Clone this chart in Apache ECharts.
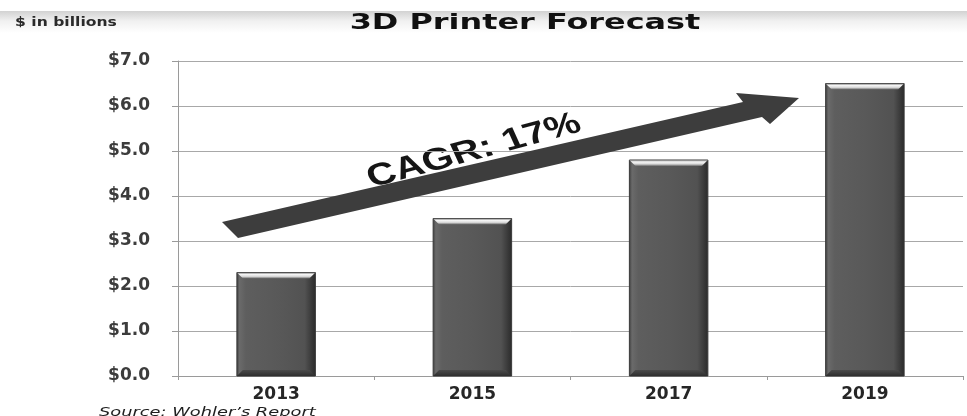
<!DOCTYPE html>
<html>
<head>
<meta charset="utf-8">
<script src="https://cdn.jsdelivr.net/npm/echarts@6/dist/echarts.min.js"></script>
<style>
  html, body { margin: 0; padding: 0; background: #ffffff; }
  #chart { width: 967px; height: 416px; }
</style>
</head>
<body>
<div id="chart"></div>
<script>
// Forecast categories and revenue (US$ billions)
const years = ['2013', '2015', '2017', '2019'];
const revenue = [2.3, 3.5, 4.8, 6.5];

// Value axis ticks
const yMin = 0;
const yMax = 7;
const yStep = 1;

// Texts
const chartTitle = '3D Printer Forecast';
const unitNote = '$ in billions';
const sourceNote = 'Source: Wohler\u2019s Report';
const cagrNote = 'CAGR: 17%';

const FONT = '"DejaVu Sans", Verdana, sans-serif';

const chart = echarts.init(document.getElementById('chart'), null, { renderer: 'canvas' });

// Bevelled dark-grey column
function renderBar(params, api) {
  const idx = api.value(0);
  const val = api.value(1);
  const top = api.coord([idx, val]);
  const base = api.coord([idx, 0]);
  const band = api.size([1, 0])[0];
  const w = band * 0.4;
  const x = top[0] - w / 2;
  const y = top[1];
  const h = base[1] - top[1];
  const b = 6;
  const G = echarts.graphic.LinearGradient;
  return {
    type: 'group',
    children: [
      {
        type: 'rect',
        shape: { x: x, y: y, width: w, height: h },
        style: {
          fill: new G(0, 0, 1, 0, [
            { offset: 0, color: '#3a3a3a' },
            { offset: 0.04, color: '#6a6a6a' },
            { offset: 0.12, color: '#5e5e5e' },
            { offset: 0.5, color: '#595959' },
            { offset: 0.86, color: '#525252' },
            { offset: 0.95, color: '#383838' },
            { offset: 1, color: '#2a2a2a' }
          ]),
          stroke: '#3a3a3a',
          lineWidth: 1
        }
      },
      {
        type: 'polygon',
        shape: { points: [[x, y], [x + w, y], [x + w - b, y + b], [x + b, y + b]] },
        style: {
          fill: new G(0, 0, 0, 1, [
            { offset: 0, color: '#6a6a6a' },
            { offset: 0.3, color: '#f6f6f6' },
            { offset: 0.65, color: '#dcdcdc' },
            { offset: 1, color: '#6c6c6c' }
          ])
        }
      },
      {
        type: 'polygon',
        shape: { points: [[x + b, y + h - b], [x + w - b, y + h - b], [x + w, y + h], [x, y + h]] },
        style: {
          fill: new G(0, 0, 0, 1, [
            { offset: 0, color: '#4a4a4a' },
            { offset: 1, color: '#2e2e2e' }
          ])
        }
      }
    ]
  };
}

const barData = years.map((yr, i) => [i, revenue[i]]);

const option = {
  backgroundColor: '#ffffff',
  animation: false,
  grid: { left: 178, right: 4, top: 61, bottom: 40 },
  xAxis: {
    type: 'category',
    data: years,
    boundaryGap: true,
    axisLine: { show: true, lineStyle: { color: '#9a9a9a', width: 1 } },
    axisTick: { show: true, length: 4, lineStyle: { color: '#9a9a9a' } },
    axisLabel: {
      margin: 10,
      color: '#262626',
      fontFamily: FONT,
      fontWeight: 'bold',
      fontSize: 17
    },
    splitLine: { show: false }
  },
  yAxis: {
    type: 'value',
    min: yMin,
    max: yMax,
    interval: yStep,
    axisLine: { show: true, lineStyle: { color: '#9a9a9a', width: 1 } },
    axisTick: { show: true, length: 6, lineStyle: { color: '#9a9a9a' } },
    axisLabel: {
      margin: 28,
      color: '#3c3c3c',
      fontFamily: FONT,
      fontWeight: 'bold',
      fontSize: 17,
      formatter: v => '$' + v.toFixed(1)
    },
    splitLine: { show: true, lineStyle: { color: '#a8a8a8', width: 1 } }
  },
  series: [{
    type: 'custom',
    renderItem: renderBar,
    encode: { x: 0, y: 1 },
    data: barData,
    z: 2
  }],
  graphic: [
    // faint grey band along the top edge
    {
      type: 'rect',
      left: 0, top: 11, z: 0,
      shape: { width: 967, height: 22 },
      style: {
        fill: new echarts.graphic.LinearGradient(0, 0, 0, 1, [
          { offset: 0, color: '#d2d2d2' },
          { offset: 0.45, color: '#f0f0f0' },
          { offset: 1, color: '#ffffff' }
        ])
      },
      silent: true
    },
    // unit note, top-left
    {
      type: 'group', x: 15, y: 23, scaleX: 1.3, z: 10,
      children: [{
        type: 'text',
        style: {
          text: unitNote, fill: '#2a2a2a',
          font: 'bold 12px ' + FONT,
          textAlign: 'left', textVerticalAlign: 'middle'
        }
      }]
    },
    // chart title
    {
      type: 'group', x: 525, y: 23, scaleX: 1.45, z: 10,
      children: [{
        type: 'text',
        style: {
          text: chartTitle, fill: '#111111',
          font: 'bold 22px ' + FONT,
          textAlign: 'center', textVerticalAlign: 'middle'
        }
      }]
    },
    // growth arrow
    {
      type: 'polygon', z: 5, silent: true,
      shape: {
        points: [[222, 222], [743, 102], [736, 93], [799, 98], [770, 124], [762, 117], [238, 238]]
      },
      style: { fill: '#3d3d3d' }
    },
    // CAGR label along the arrow
    {
      type: 'group', x: 474, y: 151, scaleX: 1.3, z: 10,
      children: [{
        type: 'text', rotation: 0.335,
        style: {
          text: cagrNote, fill: '#151515',
          font: 'bold 31px "Liberation Sans", Arial, sans-serif',
          textAlign: 'center', textVerticalAlign: 'middle'
        }
      }]
    },
    // source note, bottom-left
    {
      type: 'group', x: 99, y: 406, scaleX: 1.37, z: 10,
      children: [{
        type: 'text',
        style: {
          text: sourceNote, fill: '#1e1e1e',
          font: 'italic 13px ' + FONT,
          textAlign: 'left', textVerticalAlign: 'top'
        }
      }]
    }
  ]
};

chart.setOption(option);
</script>
</body>
</html>
